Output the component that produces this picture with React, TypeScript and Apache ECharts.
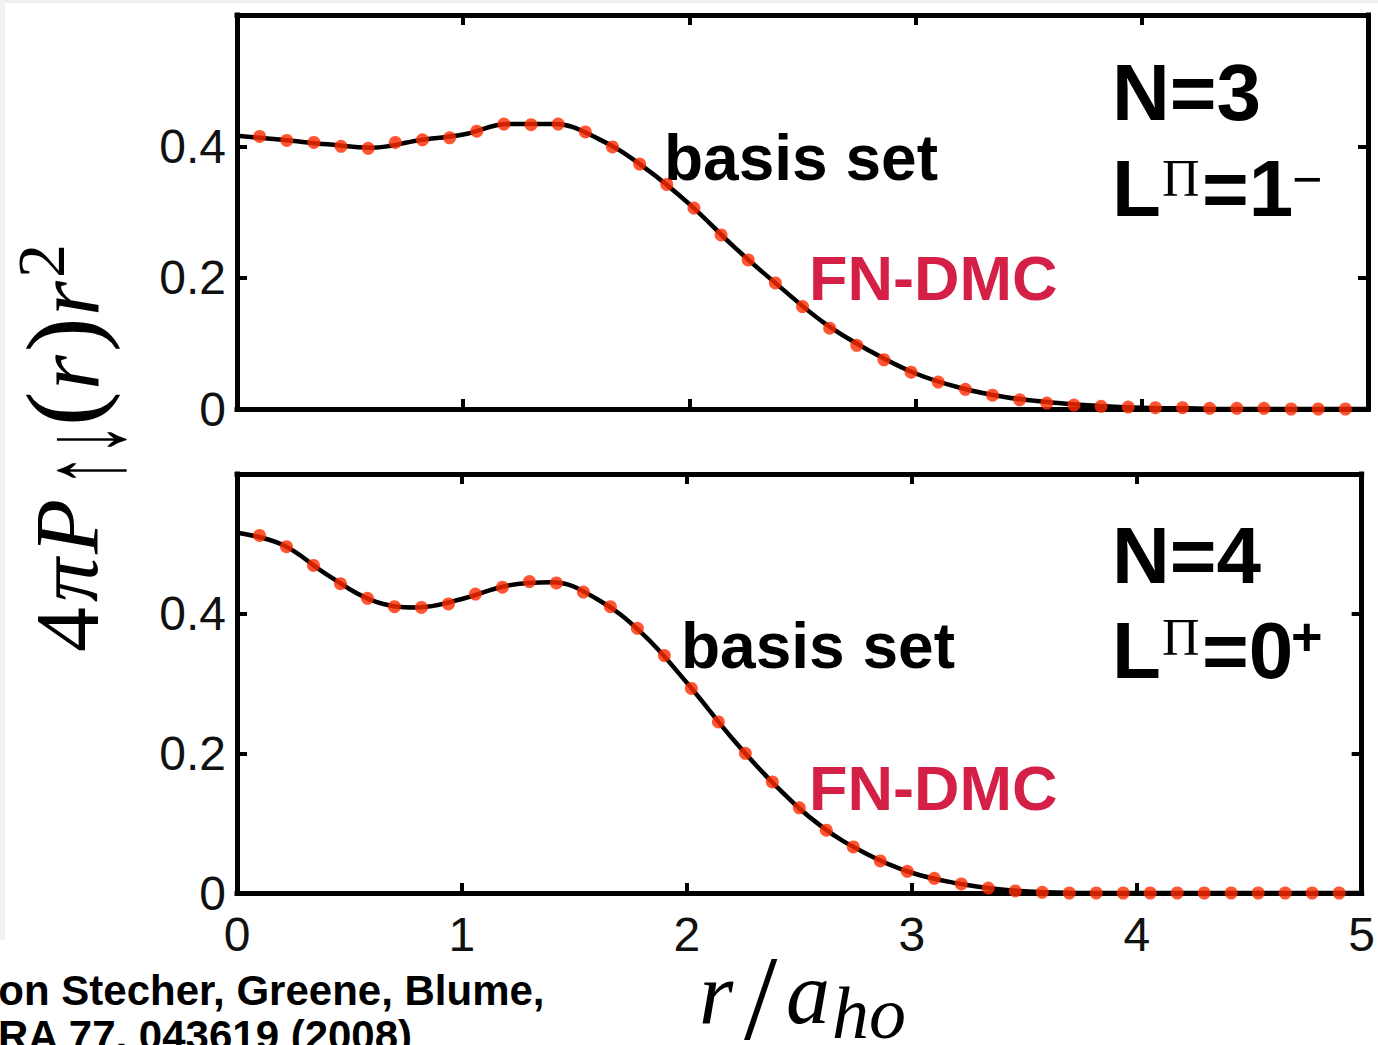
import React, { useEffect, useRef } from 'react';
import * as echarts from 'echarts';

// ---------- data ----------
const xTickLabels = ['0', '1', '2', '3', '4', '5'];
const yTickLabels = ['0', '0.2', '0.4'];

// FN-DMC sample radii (r / a_ho)
const dmcR = [
  0.10, 0.22, 0.34, 0.46, 0.58, 0.70, 0.82, 0.94, 1.06, 1.18, 1.30, 1.42, 1.54, 1.66,
  1.78, 1.90, 2.02, 2.14, 2.26, 2.38, 2.50, 2.62, 2.74, 2.86, 2.98, 3.10, 3.22, 3.34,
  3.46, 3.58, 3.70, 3.82, 3.94, 4.06, 4.18, 4.30, 4.42, 4.54, 4.66, 4.78, 4.90,
];
// FN-DMC, N=3, L^Pi = 1-
const dmcN3 = [
  0.415, 0.409, 0.406, 0.400, 0.397, 0.406, 0.410, 0.413, 0.423, 0.434, 0.433, 0.434, 0.422, 0.399,
  0.373, 0.342, 0.306, 0.265, 0.227, 0.192, 0.156, 0.123, 0.097, 0.075, 0.056, 0.041, 0.030, 0.021,
  0.014, 0.009, 0.006, 0.004, 0.003, 0.002, 0.002, 0.001, 0.001, 0.001, 0, 0, 0,
];
// FN-DMC, N=4, L^Pi = 0+
const dmcN4 = [
  0.512, 0.496, 0.469, 0.443, 0.422, 0.410, 0.409, 0.414, 0.428, 0.438, 0.446, 0.444, 0.431, 0.410,
  0.379, 0.340, 0.293, 0.245, 0.200, 0.159, 0.122, 0.090, 0.066, 0.046, 0.031, 0.021, 0.013, 0.007,
  0.003, 0.001, 0, 0, 0, 0, 0, 0, 0, 0, 0, 0, 0,
];

// basis set curve samples
const basisR = [
  0, 0.2, 0.4, 0.6, 0.8, 1.0, 1.2, 1.4, 1.6, 1.8, 2.0, 2.2, 2.4, 2.6, 2.8, 3.0, 3.2, 3.4, 3.6, 3.8,
  4.0, 4.2, 4.4, 4.6, 4.8, 5.0,
];
const basisN3 = [
  0.416, 0.410, 0.403, 0.398, 0.409, 0.418, 0.434, 0.434, 0.411, 0.368, 0.312, 0.246, 0.186, 0.130,
  0.088, 0.054, 0.032, 0.018, 0.010, 0.005, 0.002, 0.001, 0, 0, 0, 0,
];
const basisN4 = [
  0.516, 0.499, 0.456, 0.419, 0.409, 0.421, 0.440, 0.445, 0.421, 0.372, 0.301, 0.222, 0.152, 0.095,
  0.056, 0.029, 0.014, 0.005, 0.001, 0, 0, 0, 0, 0, 0, 0,
];

const basisLabel = 'basis set';
const dmcLabel = 'FN-DMC';
const panelN = ['N=3', 'N=4'];
const panelL = ['L', 'L'];
const panelPi = ['Π', 'Π'];
const panelValue = ['=1', '=0'];
const panelSign = ['−', '+'];
const citation = ['von Stecher, Greene, Blume,', 'PRA 77, 043619 (2008)'];

// ---------- styling ----------
const SANS = '"Liberation Sans", Arial, Helvetica, sans-serif';
const SERIF = '"Liberation Serif", "Times New Roman", serif';
const DMC_COLOR = '#ff2a00';
const DMC_TEXT = '#d42046';

const GRIDS = [
  { left: 237, top: 15, width: 1131, height: 394 },
  { left: 237, top: 474, width: 1131, height: 419 },
];

const axisLine = { show: true, onZero: false, lineStyle: { color: '#000', width: 5, cap: 'square' } };
const axisTick = { show: true, inside: true, length: 10, lineStyle: { color: '#000', width: 4 } };

function makeX(gridIndex: number, position: string, showLabels: boolean) {
  return {
    type: 'value',
    gridIndex,
    position,
    min: 0,
    max: 5,
    interval: 1,
    axisLine,
    axisTick,
    splitLine: { show: false },
    axisLabel: showLabels
      ? {
          show: true,
          margin: 17,
          fontSize: 48,
          fontFamily: SANS,
          color: '#111',
          formatter: (v: number) => xTickLabels[Math.round(v)] ?? '',
        }
      : { show: false },
  };
}

function makeY(gridIndex: number, position: string, showLabels: boolean) {
  return {
    type: 'value',
    gridIndex,
    position,
    min: 0,
    max: 0.6,
    interval: 0.2,
    axisLine,
    axisTick,
    splitLine: { show: false },
    axisLabel: showLabels
      ? {
          show: true,
          margin: 11,
          fontSize: 48,
          fontFamily: SANS,
          color: '#111',
          formatter: (v: number) => yTickLabels[Math.round(v / 0.2)] ?? '',
        }
      : { show: false },
  };
}

function txt(
  x: number,
  y: number,
  text: string,
  fontSize: number,
  opts: { family?: string; weight?: string; italic?: boolean; color?: string; scaleX?: number; scaleY?: number } = {}
) {
  return {
    type: 'text',
    x,
    y,
    scaleX: opts.scaleX ?? 1,
    scaleY: opts.scaleY ?? 1,
    silent: true,
    style: {
      text,
      fontSize,
      fontFamily: opts.family ?? SANS,
      fontWeight: opts.weight ?? 'normal',
      fontStyle: opts.italic ? 'italic' : 'normal',
      fill: opts.color ?? '#000',
      align: 'left',
      verticalAlign: 'middle',
    },
  };
}

export default function App() {
  const ref = useRef<HTMLDivElement>(null);

  useEffect(() => {
    if (!ref.current) return;
    const chart = echarts.init(ref.current, null, { renderer: 'svg' });

    const panels = [
      { line: basisN3, dmc: dmcN3 },
      { line: basisN4, dmc: dmcN4 },
    ];

    const series: any[] = [];
    panels.forEach((p, i) => {
      series.push({
        type: 'line',
        name: basisLabel,
        xAxisIndex: 2 * i,
        yAxisIndex: 2 * i,
        data: basisR.map((r, k) => [r, p.line[k]]),
        smooth: 0.4,
        showSymbol: false,
        lineStyle: { color: '#000', width: 4.5 },
        z: 3,
        silent: true,
      });
      series.push({
        type: 'scatter',
        name: dmcLabel,
        xAxisIndex: 2 * i,
        yAxisIndex: 2 * i,
        data: dmcR.map((r, k) => [r, p.dmc[k]]),
        symbol: 'circle',
        symbolSize: 13,
        itemStyle: { color: DMC_COLOR },
        z: 4,
        silent: true,
      });
    });

    // panel annotation positions (cap-centre y)
    const ann = [
      { basis: [664, 158], dmc: [809, 278], n: 92, l: 188, pi: 178, sign: 179, signX: 1292 },
      { basis: [681, 646], dmc: [809, 788], n: 555, l: 650, pi: 637, sign: 636, signX: 1291 },
    ];

    const graphics: any[] = [
      { type: 'rect', shape: { x: 0, y: 0, width: 1378, height: 3 }, style: { fill: '#eeeeee' }, silent: true },
      { type: 'rect', shape: { x: 0, y: 0, width: 5, height: 940 }, style: { fill: '#f2f2f2' }, silent: true },
    ];
    ann.forEach((a, i) => {
      graphics.push(txt(a.basis[0], a.basis[1], basisLabel, 64, { weight: 'bold' }));
      graphics.push(txt(a.dmc[0], a.dmc[1], dmcLabel, 63, { weight: 'bold', color: DMC_TEXT }));
      graphics.push(txt(1112, a.n, panelN[i], 80, { weight: 'bold' }));
      graphics.push(txt(1112, a.l, panelL[i], 80, { weight: 'bold' }));
      graphics.push(txt(1162, a.pi, panelPi[i], 52, { family: SERIF }));
      graphics.push(txt(1202, a.l, panelValue[i], 80, { weight: 'bold' }));
      graphics.push(
        txt(a.signX, a.sign, panelSign[i], i === 0 ? 52 : 54, { weight: i === 0 ? 'normal' : 'bold' })
      );
    });

    // y-axis title, rotated to read bottom-to-top
    graphics.push({
      type: 'group',
      x: 97,
      y: 652,
      rotation: Math.PI / 2,
      silent: true,
      children: [
        txt(0, -30, '4', 90, { family: SERIF }),
        txt(50, -30, 'π', 88, { family: SERIF, italic: true }),
        txt(98, -30, 'P', 90, { family: SERIF, italic: true }),
        txt(166, -14, '↑↓', 62, { family: SERIF, scaleY: 1.9 }),
        txt(226, -35, '(', 104, { family: SERIF }),
        txt(262, -30, 'r', 90, { family: SERIF, italic: true }),
        txt(300, -35, ')', 104, { family: SERIF }),
        txt(336, -30, 'r', 90, { family: SERIF, italic: true }),
        txt(374, -56, '2', 68, { family: SERIF }),
      ],
    });

    // x-axis title r / a_ho
    graphics.push(txt(699, 993, 'r', 88, { family: SERIF, italic: true }));
    graphics.push(txt(744, 998, '/', 120, { family: SERIF }));
    graphics.push(txt(786, 993, 'a', 88, { family: SERIF, italic: true }));
    graphics.push(txt(832, 1013, 'ho', 74, { family: SERIF, italic: true }));

    // citation (clipped at the left edge as in the source)
    graphics.push(txt(-25, 990, citation[0], 42, { weight: 'bold' }));
    graphics.push(txt(-30, 1035, citation[1], 42, { weight: 'bold' }));

    chart.setOption({
      animation: false,
      backgroundColor: '#ffffff',
      grid: GRIDS.map((g) => ({ ...g, containLabel: false })),
      xAxis: [makeX(0, 'bottom', false), makeX(0, 'top', false), makeX(1, 'bottom', true), makeX(1, 'top', false)],
      yAxis: [makeY(0, 'left', true), makeY(0, 'right', false), makeY(1, 'left', true), makeY(1, 'right', false)],
      series,
      graphic: { elements: graphics },
    });

    return () => chart.dispose();
  }, []);

  return (
    <div
      ref={ref}
      style={{ position: 'fixed', left: 0, top: 0, width: 1378, height: 1045, background: '#fff' }}
    />
  );
}
